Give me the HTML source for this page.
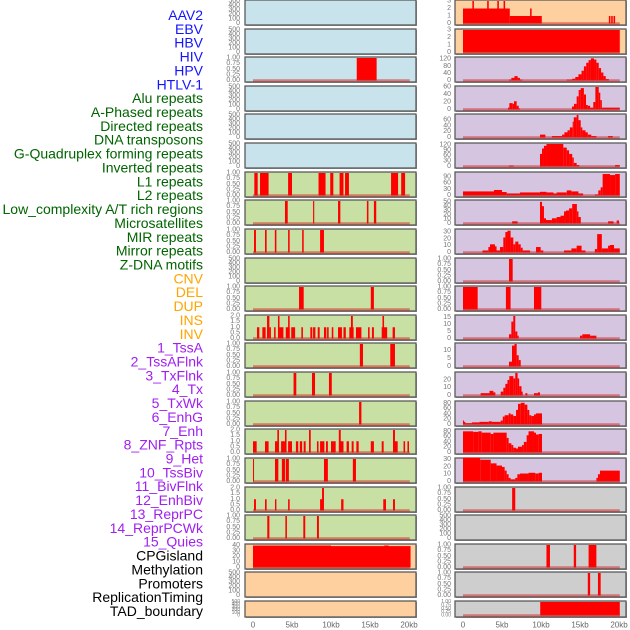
<!DOCTYPE html>
<html><head><meta charset="utf-8"><style>
html,body{margin:0;padding:0;background:#fff;width:630px;height:630px;overflow:hidden}
svg{display:block;font-family:"Liberation Sans",Arial,sans-serif}
</style></head><body>
<svg id="chart" width="630" height="630" viewBox="0 0 630 630"></svg>
<script>
// ---- labels ----
const trackLabels = ["AAV2","EBV","HBV","HIV","HPV","HTLV-1","Alu repeats","A-Phased repeats","Directed repeats","DNA transposons","G-Quadruplex forming repeats","Inverted repeats","L1 repeats","L2 repeats","Low_complexity A/T rich regions","Microsatellites","MIR repeats","Mirror repeats","Z-DNA motifs","CNV","DEL","DUP","INS","INV","1_TssA","2_TssAFlnk","3_TxFlnk","4_Tx","5_TxWk","6_EnhG","7_Enh","8_ZNF_Rpts","9_Het","10_TssBiv","11_BivFlnk","12_EnhBiv","13_ReprPC","14_ReprPCWk","15_Quies","CPGisland","Methylation","Promoters","ReplicationTiming","TAD_boundary"];
const labelGroups = [6,13,5,15,5];
const xTickValues = [0,5,10,15,20];
const xTickLabels = ["0","5kb","10kb","15kb","20kb"];
// ---- tick sets ----
const T500=[0,100,200,300,400,500], T1=[0,0.25,0.5,0.75,1], T2=[0,0.5,1,1.5,2], T40=[0,10,20,30,40], T3=[0,1,2,3];
// ---- left column data: [startKb,endKb,value] ----
const L_HIV=[[13.3,15.85,1]];
const L_L1=[[0.17,0.6,1],[0.9,2.0,1],[4.5,5.0,1],[8.4,9.3,1],[9.9,10.3,1],[11.1,11.6,1],[11.8,12.3,1],[17.7,18.6,1],[19.0,19.5,1]];
const L_LowAT=[[4.1,4.45,1],[7.7,7.85,1],[10.9,11.2,1],[14.6,14.8,1],[15.5,15.8,1]];
const L_MIR=[[0.13,0.38,1],[1.54,1.75,1],[2.8,3.0,1],[4.5,4.7,1],[6.3,6.5,1],[8.6,9.1,1]];
const L_CNV=[[5.9,6.5,1],[15.1,15.5,1]];
const L_INS=[[0.51,0.81,1],[1.2,1.62,1],[1.8,2.1,2],[2.1,2.3,1],[2.7,2.9,1],[3.2,3.4,2],[3.4,3.9,1],[4.2,4.7,1],[4.5,4.7,2],[4.9,5.4,1],[6.2,6.4,1],[7.35,7.6,1],[7.7,8.0,1],[8.3,8.55,1],[9.1,9.4,1],[9.5,9.7,1],[10.1,10.3,1],[10.9,11.4,1],[11.6,11.9,1],[12.35,12.9,1],[12.56,12.8,2],[13.2,13.9,1],[14.75,14.95,1],[15.25,15.5,1],[16.5,17.2,1],[16.6,16.8,2],[17.9,18.2,1]];
const L_TssA=[[13.7,14.1,1],[17.6,18.2,1]];
const L_Tx=[[5.2,5.55,1],[7.56,7.95,1],[9.74,10.1,1]];
const L_EnhG=[[13.6,13.9,1]];
const L_ZNF=[[0,0.47,1],[1.54,2.0,1],[2.82,3.25,1],[3.12,3.33,2],[3.6,4.1,1],[4.1,4.3,2],[4.5,5.0,1],[5.5,5.8,1],[6.0,6.3,1],[6.5,6.75,1],[7.18,7.4,2],[8.2,8.4,1],[8.6,9.15,1],[9.36,9.6,1],[10.0,10.6,1],[11.0,11.25,2],[11.1,11.6,1],[12.0,12.3,1],[12.65,12.9,1],[13.25,13.55,1],[15.1,15.5,1],[16.5,16.75,1],[17.95,18.2,2],[18.1,18.55,1],[19.3,19.5,1],[19.8,20.0,1]];
const L_Het=[[0,0.13,1],[2.82,3.25,1],[3.7,4.1,1],[4.2,4.6,1],[9.1,9.6,1],[12.8,13.2,1]];
const L_TssBiv=[[0.13,0.38,1],[1.54,1.75,1],[2.82,3.0,1],[4.5,4.7,1],[8.6,8.9,1],[8.85,9.1,2],[11.3,11.6,1],[16.7,17.05,1],[17.95,18.2,1]];
const L_BivFlnk=[[1.83,2.1,1],[4.15,4.35,1],[6.45,6.7,1],[8.2,8.45,1]];
const L_CPG=[[0,10,40],[10,20.2,39],[16.8,17.4,40]];
// ---- right column data ----
const R_AAV=[[0,6.0,2],[6.0,10.1,1],[1.2,1.4,3],[3.1,3.3,3],[4.4,4.6,3],[5.2,5.4,3],[8.6,8.8,2],[18.7,18.9,1],[19.0,19.2,1],[19.3,19.5,1]];
const R_EBV=[[0,20.1,3]];
const R_HIV=[[5.9,6.2,5],[6.2,6.6,15],[6.6,7.0,25],[7.0,7.3,15],[7.3,7.6,5],[13.3,14.0,5],[14.0,14.4,10],[14.4,14.8,20],[14.8,15.2,35],[15.2,15.5,55],[15.5,15.8,80],[15.8,16.1,100],[16.1,16.4,115],[16.4,16.8,125],[16.8,17.1,118],[17.1,17.4,100],[17.4,17.7,70],[17.7,18.0,45],[18.0,18.3,25],[18.3,18.7,8]];
const R_Alu=[[5.77,5.94,5],[5.94,6.37,17],[6.37,6.54,15],[6.54,6.88,22],[6.88,7.14,10],[7.14,7.3,3],[13.97,14.23,8],[14.23,14.57,15],[14.57,14.83,35],[14.83,15.09,52],[15.09,15.5,57],[15.5,15.77,40],[15.77,16.0,12],[16.0,16.3,10],[16.3,16.7,5],[16.7,16.97,20],[16.97,17.4,60],[17.4,17.6,45],[17.6,17.8,25],[17.8,20.1,5]];
const R_APh=[[9.87,10.56,10],[11.4,12.7,5],[12.7,13.0,10],[13.0,13.4,18],[13.4,13.7,25],[13.7,14.06,35],[14.06,14.2,55],[14.2,14.57,70],[14.57,14.8,78],[14.8,15.09,60],[15.09,15.3,35],[15.3,15.7,25],[15.7,16.0,18],[16.0,16.45,10],[16.45,17.1,5],[18.6,19.2,5]];
const R_Dir=[[5.9,6.5,5],[9.87,10.13,70],[10.13,10.38,100],[10.38,10.7,115],[10.7,12.86,125],[12.86,13.3,105],[13.3,13.6,90],[13.6,14.0,70],[14.0,14.2,50],[14.2,14.57,20],[14.57,14.9,8],[19.5,20.1,8]];
const R_DNA=[[0,3.97,20],[3.97,5.0,27],[5.0,5.6,17],[5.6,7.3,10],[7.3,9.87,15],[9.87,10.7,18],[10.7,11.6,15],[11.6,12.0,10],[12.0,13.3,15],[13.3,13.9,25],[13.9,14.8,20],[14.8,15.4,10],[16.9,17.35,5],[17.35,17.65,25],[17.65,17.9,40],[17.9,18.85,105],[18.85,19.5,100],[19.5,20.1,105]];
const R_GQ=[[6.3,7.0,5],[9.87,10.13,50],[10.13,10.38,40],[10.38,10.64,12],[10.64,11.4,8],[11.4,12.0,12],[12.0,12.5,15],[12.5,12.95,18],[12.95,13.2,28],[13.2,13.6,30],[13.6,14.0,35],[14.0,14.6,45],[14.6,14.8,28],[14.8,15.1,15],[18.6,19.3,5],[19.7,20.0,7]];
const R_Inv=[[2.5,3.25,3],[3.25,3.46,8],[3.46,4.1,12],[4.1,4.3,9],[4.3,4.74,3],[4.74,5.17,8],[5.17,5.43,22],[5.43,5.7,30],[5.7,6.1,32],[6.1,6.45,22],[6.45,6.7,12],[6.7,7.1,16],[7.1,7.4,12],[7.4,7.65,7],[7.65,8.6,3],[9.36,9.96,8],[9.96,10.3,3],[12.95,13.9,3],[13.9,14.57,6],[14.57,15.2,10],[15.2,15.7,3],[16.9,17.2,5],[17.2,17.8,27],[17.8,18.6,6],[18.6,18.85,10],[18.85,19.36,11],[19.36,20.1,6]];
const R_L1=[[5.9,6.37,1]];
const R_L2=[[0,1.88,1],[5.5,6.1,1],[9.1,10.04,1]];
const R_LowAT=[[5.9,6.2,3],[6.2,6.45,12],[6.45,6.7,16],[6.7,6.97,5],[6.97,7.14,2],[15.0,15.3,2],[15.3,16.3,3],[16.3,17.1,2]];
const R_Micro=[[5.9,6.28,3],[6.28,6.6,13],[6.6,6.88,14],[6.88,7.14,7],[7.14,7.4,4]];
const R_MIR=[[2.26,3.4,3],[3.4,3.9,6],[3.9,4.15,4],[4.83,5.17,5],[5.17,5.43,10],[5.43,5.7,15],[5.7,5.94,20],[5.94,6.45,25],[6.45,6.7,22],[6.7,7.0,29],[7.0,7.2,22],[7.2,7.5,12],[7.5,7.65,5],[8.0,8.25,3],[9.1,9.6,3],[9.6,9.87,4]];
const R_Mirror=[[0,0.13,15],[0.13,0.3,10],[0.3,1.15,5],[1.15,2.1,8],[2.1,3.3,10],[3.3,3.7,12],[3.7,4.83,10],[4.83,5.1,15],[5.1,5.34,30],[5.34,5.85,35],[5.85,6.1,42],[6.1,6.45,38],[6.45,6.8,32],[6.8,7.05,55],[7.05,7.4,78],[7.4,7.9,82],[7.9,8.25,75],[8.25,8.5,55],[8.5,8.76,35],[8.76,9.1,32],[9.1,9.36,38],[9.36,10.13,42]];
const R_ZDNA=[[0,1.3,80],[1.3,1.97,78],[1.97,2.4,80],[2.4,3.55,75],[3.55,3.9,70],[3.9,5.6,75],[5.6,5.85,55],[5.85,6.2,35],[6.2,6.45,28],[6.45,6.8,18],[6.8,7.05,15],[7.05,7.56,22],[7.56,7.8,28],[7.8,8.16,40],[8.16,8.4,65],[8.4,9.1,80],[9.1,9.36,75],[9.36,9.7,68],[9.7,10.13,70]];
const R_CNV=[[0,2.2,33],[2.2,3.55,30],[3.55,4.3,25],[4.3,5.0,22],[5.0,5.34,20],[5.34,5.6,15],[5.6,5.85,10],[5.85,6.1,5],[6.1,6.7,3],[6.7,6.97,5],[6.97,7.3,10],[7.3,8.4,11],[8.4,9.27,12],[9.27,9.7,11],[9.7,10.13,12],[17.1,17.3,5],[17.3,17.56,10],[17.56,20.1,15]];
const R_DEL=[[6.3,6.7,1]];
const R_INS=[[10.7,11.15,1],[14.2,14.5,1],[16.1,17.1,1]];
const R_INV=[[16.0,16.3,1],[17.3,17.65,1]];
const R_TssA=[[9.9,20.1,1]];

const BLUE="#c8e3eb", GREEN="#c8e0a3", ORANGE="#fecf9f", PURPLE="#d5c5e1", GRAY="#cecece";
const left=[
 [BLUE,500,T500,null],[BLUE,500,T500,null],[BLUE,1,T1,L_HIV],[BLUE,500,T500,null],[BLUE,500,T500,null],[BLUE,500,T500,null],
 [GREEN,1,T1,L_L1],[GREEN,1,T1,L_LowAT],[GREEN,1,T1,L_MIR],[GREEN,500,T500,null],[GREEN,1,T1,L_CNV],[GREEN,2,T2,L_INS],
 [GREEN,1,T1,L_TssA],[GREEN,1,T1,L_Tx],[GREEN,1,T1,L_EnhG],[GREEN,2,T2,L_ZNF],[GREEN,1,T1,L_Het],[GREEN,2,T2,L_TssBiv],[GREEN,1,T1,L_BivFlnk],
 [ORANGE,41,T40,L_CPG],[ORANGE,500,T500,null],[ORANGE,500,T500,null]];
const right=[
 [ORANGE,3,T3,R_AAV],[ORANGE,3,T3,R_EBV],[PURPLE,127,[0,40,80,120],R_HIV],[PURPLE,60,[0,20,40,60],R_Alu],[PURPLE,78,[0,20,40,60],R_APh],
 [PURPLE,125,[0,30,60,90,120],R_Dir],[PURPLE,110,[0,30,60,90],R_DNA],[PURPLE,52,[0,10,20,30,40,50],R_GQ],[PURPLE,33,[0,10,20,30],R_Inv],
 [PURPLE,1,T1,R_L1],[PURPLE,1,T1,R_L2],[PURPLE,16,[0,5,10,15],R_LowAT],[PURPLE,14,[0,5,10],R_Micro],[PURPLE,29,[0,10,20],R_MIR],
 [PURPLE,85,[0,20,40,60,80],R_Mirror],[PURPLE,85,[0,20,40,60,80],R_ZDNA],[PURPLE,31,[0,10,20,30],R_CNV],
 [GRAY,1,T1,R_DEL],[GRAY,500,T500,null],[GRAY,1,T1,R_INS],[GRAY,1,T1,R_INV],[GRAY,1,T1,R_TssA]];

const NS="http://www.w3.org/2000/svg";
const svg=document.getElementById('chart');
function mk(tag,attrs,parent){const e=document.createElementNS(NS,tag);for(const k in attrs)e.setAttribute(k,attrs[k]);(parent||svg).appendChild(e);return e;}

// labels
const groupColors=["#1414ff","#006400","#ffa500","#a020f0","#000000"];
let gi=0,cnt=0;
trackLabels.forEach((t,i)=>{
  const el=mk('text',{x:203,y:15+i*13.86,'text-anchor':'end','dominant-baseline':'central','font-size':'14',fill:groupColors[gi]});
  el.textContent=t;
  
  
  cnt++; if(cnt>=labelGroups[gi]){gi++;cnt=0;}
});

const rowTops=i=>Math.round(i*28.62);
function fmt(v,ticks){const step=ticks[1]-ticks[0];if(step<0.5||step===0.25)return v.toFixed(2);if(step%1!==0)return v.toFixed(1);return String(v);}
function drawCol(rows,px,x0,tickRight,side){
  rows.forEach((r,i)=>{
    const [bg,ymax,ticks,data]=r;
    const top=rowTops(i), h=(i===21)?16:25;
    const g=mk('g',{});
    
    
    mk('rect',{x:px+1,y:top+1,width:171,height:h,fill:'#9a9a9a'},g);
    mk('rect',{x:px,y:top,width:171,height:h,fill:bg,stroke:'#5a5a5a','stroke-width':1.3},g);
    const xs=kb=>x0+kb*7.8;
    const ys=v=>top+h-1.5-(v/ymax)*(h-2.5);
    ticks.forEach(tv=>{
      const t=mk('text',{x:tickRight,y:ys(tv),'text-anchor':'end','dominant-baseline':'central','font-size':(h<20?5:7),fill:'#777'},g);
      t.textContent=fmt(tv,ticks);
      
      
    });
    if(data){
      data.forEach(d=>{
        const b=mk('rect',{x:xs(d[0]),y:ys(d[2]),width:Math.max(0.8,xs(d[1])-xs(d[0])),height:ys(0)-ys(d[2]),fill:'#ff0000'},g);
        
        
      });
      const bl=mk('line',{x1:xs(0),x2:xs(20.1),y1:ys(0),y2:ys(0),stroke:'rgba(210,30,30,0.5)','stroke-width':2.5},g);
      
      
    }
  });
  xTickValues.forEach((v,k)=>{
    const t=mk('text',{x:x0+v*7.8,y:625,'text-anchor':'middle','dominant-baseline':'central','font-size':8,fill:'#666'});
    t.textContent=xTickLabels[k];
    
    
  });
}
drawCol(left,245,253,240,'left');
drawCol(right,455,463,451,'right');
</script>
</body></html>
